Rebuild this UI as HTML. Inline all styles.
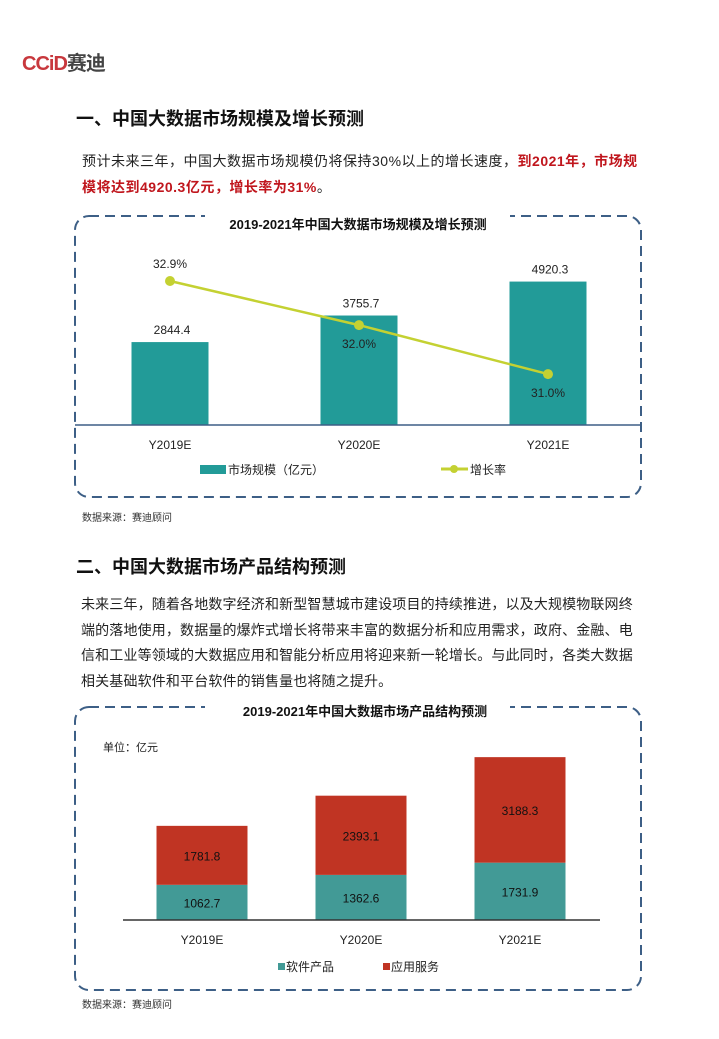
<!DOCTYPE html>
<html><head><meta charset="utf-8">
<style>
body{margin:0;width:719px;height:1039px;background:#fff;position:relative;overflow:hidden;font-family:"Liberation Sans","Noto Sans CJK SC",sans-serif;}
.abs{position:absolute;white-space:nowrap;}
.h{font-size:18px;font-weight:bold;color:#111;}
.p{font-size:14px;color:#222;letter-spacing:0.15px;}
.red{color:#c0161d;font-weight:bold;}
.src{font-size:10px;color:#333;}
svg text{font-family:"Liberation Sans","Noto Sans CJK SC",sans-serif;}
</style></head><body>
<div class="abs" style="left:22px;top:47px;font-size:20px;font-weight:bold;letter-spacing:-1px"><span style="color:#c8383d">CCiD</span><span style="color:#444">赛迪</span></div>
<div class="abs h" style="left:76px;top:105px">一、中国大数据市场规模及增长预测</div>
<div class="abs p" style="left:82px;top:148px;line-height:26px;letter-spacing:0.5px">预计未来三年，中国大数据市场规模仍将保持30%以上的增长速度，<span class="red">到2021年，市场规</span><br><span class="red">模将达到4920.3亿元，增长率为31%</span>。</div>

<svg class="abs" style="left:0;top:0" width="719" height="1039">
<rect x="75" y="216" width="566" height="281" rx="14" fill="none" stroke="#3d5f86" stroke-width="2" stroke-dasharray="10,6"/>
<rect x="205" y="212" width="305" height="22" fill="#fff"/>
<text x="358" y="229" text-anchor="middle" font-size="13" font-weight="bold" fill="#111">2019-2021年中国大数据市场规模及增长预测</text>
<g id="c1"></g>
<line x1="75" y1="425" x2="641" y2="425" stroke="#3d5f86" stroke-width="1.5"/>
<rect x="200" y="465" width="26" height="9" fill="#229b98"/>
<text x="228" y="474" font-size="12" fill="#222">市场规模（亿元）</text>
<line x1="441" y1="469" x2="468" y2="469" stroke="#c4d132" stroke-width="3"/>
<circle cx="454" cy="469" r="4" fill="#c4d132"/>
<text x="470" y="474" font-size="12" fill="#222">增长率</text>

<rect x="75" y="707" width="566" height="283" rx="14" fill="none" stroke="#3d5f86" stroke-width="2" stroke-dasharray="10,6"/>
<rect x="205" y="700" width="305" height="22" fill="#fff"/>
<text x="365" y="716" text-anchor="middle" font-size="13" font-weight="bold" fill="#111">2019-2021年中国大数据市场产品结构预测</text>
<text x="103" y="751" font-size="11" fill="#222">单位：亿元</text>
<g id="c2"></g>
<line x1="123" y1="920" x2="600" y2="920" stroke="#333" stroke-width="1.5"/>
<rect x="278" y="963" width="7" height="7" fill="#429a96"/>
<text x="286" y="971" font-size="12" fill="#222">软件产品</text>
<rect x="383" y="963" width="7" height="7" fill="#c03423"/>
<text x="391" y="971" font-size="12" fill="#222">应用服务</text>
</svg>

<div class="abs src" style="left:82px;top:509px">数据来源：赛迪顾问</div>
<div class="abs h" style="left:76px;top:553px">二、中国大数据市场产品结构预测</div>
<div class="abs p" style="left:81px;top:592px;line-height:25.5px">未来三年，随着各地数字经济和新型智慧城市建设项目的持续推进，以及大规模物联网终<br>端的落地使用，数据量的爆炸式增长将带来丰富的数据分析和应用需求，政府、金融、电<br>信和工业等领域的大数据应用和智能分析应用将迎来新一轮增长。与此同时，各类大数据<br>相关基础软件和平台软件的销售量也将随之提升。</div>
<div class="abs src" style="left:82px;top:996px">数据来源：赛迪顾问</div>

<script>
const categories=["Y2019E","Y2020E","Y2021E"];
const marketSize=[2844.4,3755.7,4920.3];
const growthRate=[32.9,32.0,31.0];
const software=[1062.7,1362.6,1731.9];
const services=[1781.8,2393.1,3188.3];
const NS="http://www.w3.org/2000/svg";
function mk(p,tag,a,txt){const e=document.createElementNS(NS,tag);for(const k in a)e.setAttribute(k,a[k]);if(txt!==undefined)e.textContent=txt;p.appendChild(e);return e;}
const g1=document.getElementById('c1');
const x1=i=>170+i*189, y1=v=>425-v*0.02915, yr=r=>281+(32.9-r)*49;
categories.forEach((c,i)=>{
 const b=mk(g1,'rect',{x:x1(i)-38.5,y:y1(marketSize[i]),width:77,height:425-y1(marketSize[i]),fill:'#229b98'});
 
 
 mk(g1,'text',{x:x1(i)+2,y:y1(marketSize[i])-8,'text-anchor':'middle','font-size':12,fill:'#222'},marketSize[i].toFixed(1));
 mk(g1,'text',{x:x1(i),y:449,'text-anchor':'middle','font-size':12,fill:'#222'},categories[i]);
});
const pl=mk(g1,'polyline',{points:categories.map((c,i)=>x1(i)+','+yr(growthRate[i])).join(' '),fill:'none',stroke:'#c4d132','stroke-width':2.5});


categories.forEach((c,i)=>{
 const p=mk(g1,'circle',{cx:x1(i),cy:yr(growthRate[i]),r:5,fill:'#c4d132'});
 
 
 const dy=i===0?-13:23;
 mk(g1,'text',{x:x1(i),y:yr(growthRate[i])+dy,'text-anchor':'middle','font-size':12,fill:'#222'},growthRate[i].toFixed(1)+'%');
});
const g2=document.getElementById('c2');
const x2=i=>202+i*159, s=0.0331;
categories.forEach((c,i)=>{
 const hs=software[i]*s, hv=services[i]*s;
 const a=mk(g2,'rect',{x:x2(i)-45.5,y:920-hs,width:91,height:hs,fill:'#429a96'});
 
 
 const b=mk(g2,'rect',{x:x2(i)-45.5,y:920-hs-hv,width:91,height:hv,fill:'#c03423'});
 
 
 mk(g2,'text',{x:x2(i),y:920-hs/2+5,'text-anchor':'middle','font-size':12,fill:'#111'},software[i].toFixed(1));
 mk(g2,'text',{x:x2(i),y:920-hs-hv/2+5,'text-anchor':'middle','font-size':12,fill:'#111'},services[i].toFixed(1));
 mk(g2,'text',{x:x2(i),y:944,'text-anchor':'middle','font-size':12,fill:'#222'},categories[i]);
});
</script>
</body></html>
